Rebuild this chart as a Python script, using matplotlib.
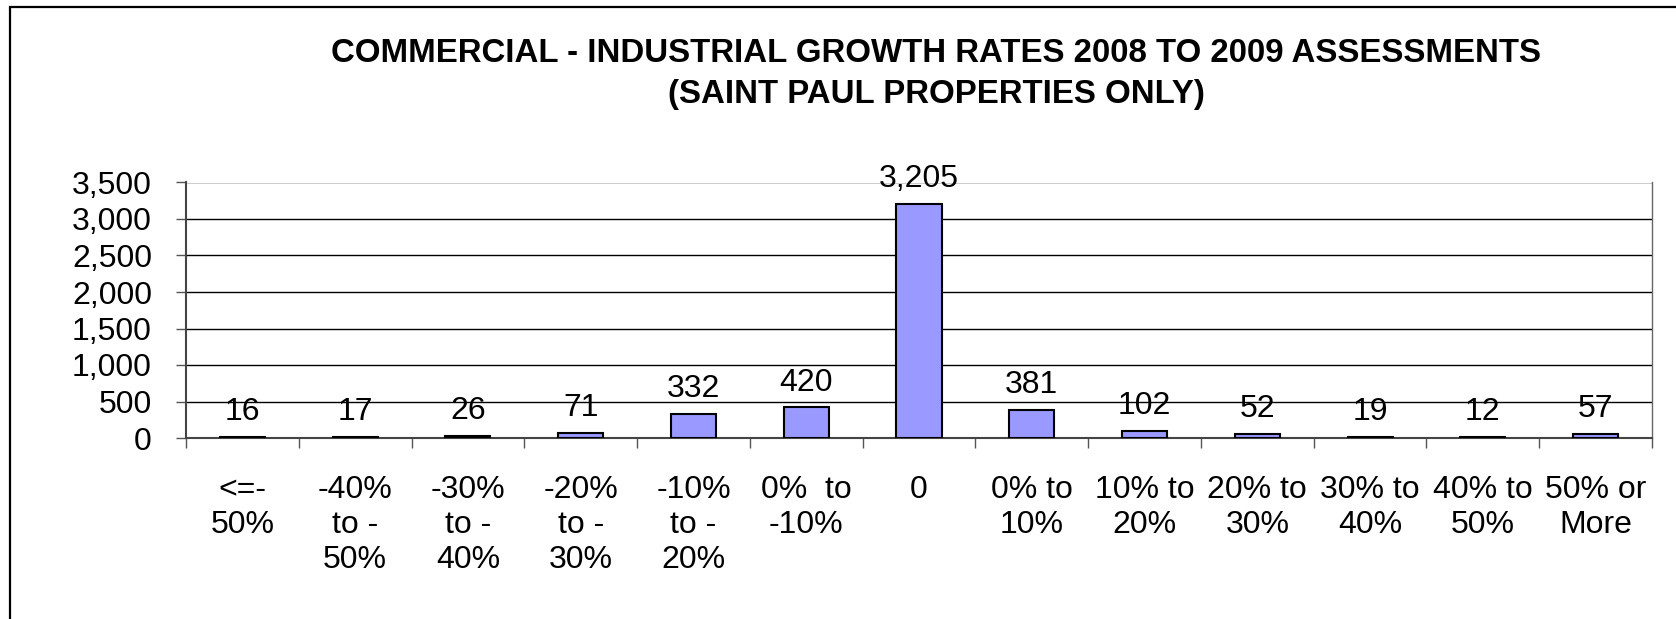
import matplotlib
matplotlib.use("Agg")
import matplotlib.pyplot as plt
from matplotlib.patches import Rectangle
from matplotlib.ticker import FuncFormatter, FixedLocator
import numpy as np

categories = ["<=-\n50%", "-40%\nto -\n50%", "-30%\nto -\n40%", "-20%\nto -\n30%",
              "-10%\nto -\n20%", "0%  to\n-10%", "0", "0% to\n10%", "10% to\n20%",
              "20% to\n30%", "30% to\n40%", "40% to\n50%", "50% or\nMore"]
counts = [16, 17, 26, 71, 332, 420, 3205, 381, 102, 52, 19, 12, 57]
title = "COMMERCIAL - INDUSTRIAL GROWTH RATES 2008 TO 2009 ASSESSMENTS\n(SAINT PAUL PROPERTIES ONLY)"

plt.rcParams['font.family'] = ['Liberation Sans', 'DejaVu Sans']

W, H = 1676, 619
fig = plt.figure(figsize=(W / 100, H / 100), dpi=100)
fig.patch.set_facecolor('white')

# outer chart frame
fig.add_artist(Rectangle((10 / W, -0.2), 1.2, 1.2 - 7 / H, transform=fig.transFigure,
                         fill=False, edgecolor='black', linewidth=1.6))

left, right = 186 / W, 1652 / W
bottom, top = 1 - 438 / H, 1 - 182.5 / H
ax = fig.add_axes([left, bottom, right - left, top - bottom])

x = np.arange(len(categories))
ax.bar(x, counts, width=0.4, color='#9999FF', edgecolor='black', linewidth=1.5, zorder=3)

ax.set_xlim(-0.5, len(categories) - 0.5)
ax.set_ylim(0, 3500)
ax.set_yticks(np.arange(0, 3501, 500))
ax.yaxis.set_major_formatter(FuncFormatter(lambda v, p: f"{int(v):,}"))
ax.grid(axis='y', color='black', linewidth=1.0, zorder=1)
ax.set_axisbelow(True)

# category boundary ticks and centered labels
ax.xaxis.set_major_locator(FixedLocator(np.arange(-0.5, len(categories), 1.0)))
ax.xaxis.set_major_formatter(FuncFormatter(lambda v, p: ""))
ax.xaxis.set_minor_locator(FixedLocator(x))
ax.set_xticklabels(categories, minor=True, fontsize=23, linespacing=1.2)
ax.tick_params(axis='x', which='major', length=7, width=1, color='#555555', direction='out')
ax.tick_params(axis='x', which='minor', length=0, pad=27)
ax.tick_params(axis='y', length=7, width=1, color='#555555', labelsize=23, pad=17.5)

for sp in ['left', 'bottom']:
    ax.spines[sp].set_color('#444444')
    ax.spines[sp].set_linewidth(1.5)
ax.spines['top'].set_visible(False)
ax.spines['right'].set_color('#666666')
ax.spines['right'].set_linewidth(1.0)

for xi, v in zip(x, counts):
    ax.annotate(f"{v:,}", (xi, v), xytext=(0, 7), textcoords='offset points',
                ha='center', va='bottom', fontsize=23, zorder=4)

fig.text(936 / W, 1 - 74 / H, title, ha='center', va='center', fontsize=23.8,
         fontweight='bold', linespacing=1.42)

fig.savefig("out.png", dpi=100, facecolor='white')
